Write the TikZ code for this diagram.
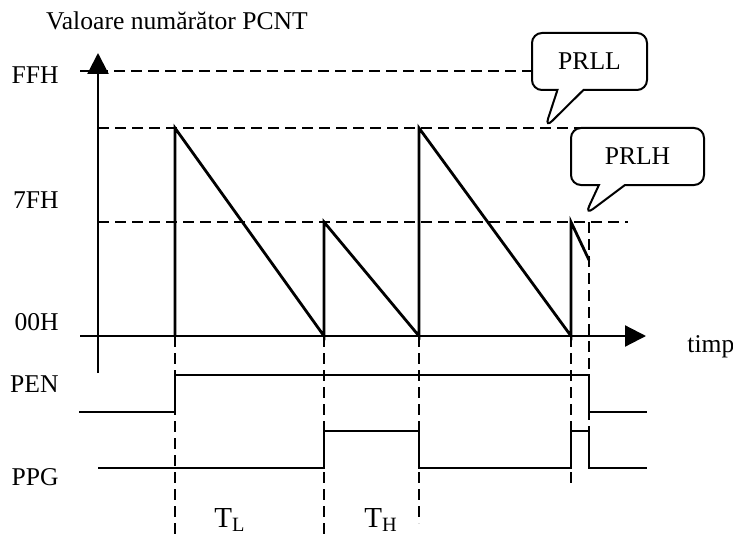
\documentclass[tikz,border=0pt]{standalone}
\usepackage{fontspec}
\setmainfont{Liberation Serif}
\usetikzlibrary{arrows.meta,shapes.callouts}
\tikzset{
  lbl/.style={font=\fontsize{12.8}{15}\selectfont, inner sep=0pt},
  per/.style={font=\fontsize{14.5}{17}\selectfont, inner sep=0pt},
  guide/.style={line width=0.9pt, dash pattern=on 5.5pt off 3pt},
  sig/.style={line width=1.1pt},
  saw/.style={line width=1.4pt, line join=miter},
  bubble/.style={rectangle callout, draw, fill=white, line width=1pt, rounded corners=5pt,
    inner sep=0pt, minimum height=28.5pt, callout pointer width=13pt,
    font=\fontsize{12.8}{15}\selectfont},
  axisarrow/.style={line width=1.1pt, -{Triangle[length=10.5pt,width=10.5pt]}}
}
\begin{document}
\begin{tikzpicture}[x=0.5pt, y=-0.5pt]
    \useasboundingbox (0,0) rectangle (733,540);
    % axes
    \draw[axisarrow] (98,373) -- (98,53);
    \draw[axisarrow] (80,336) -- (646,336);
    \node[lbl, anchor=base] (title) at (177,30) {Valoare numărător PCNT};
    \node[lbl, anchor=base west] (timp) at (687,352) {timp};
    % levels
    \draw[guide] (80,71) -- (532,71);
    \draw[guide] (98,128) -- (627,128);
    \draw[guide] (98,222) -- (628,222);
    \foreach \y/\txt in {84/FFH, 208/7FH, 330/00H, 392/PEN, 485/PPG}
      \node[lbl, anchor=base east] at (59,\y) {\txt};
    % time marks
    \foreach \x/\a/\b in {175/336/540, 324/336/540, 419/336/523, 571/336/487, 589/222/468}
      \draw[guide] (\x,\a) -- (\x,\b);
    % counter value
    \draw[saw] (175,336) -- (175,128) -- (324,336) -- (324,222) -- (419,336)
      -- (419,128) -- (571,336) -- (571,222) -- (589,260);
    % PEN and PPG
    \draw[sig] (79,411.7) -- (175,411.7) -- (175,375) -- (589,375) -- (589,411.7) -- (647,411.7);
    \draw[sig] (98,468) -- (324,468) -- (324,431) -- (419,431) -- (419,468)
      -- (571,468) -- (571,431) -- (589,431) -- (589,468) -- (647,468);
    % periods
    \node[per, anchor=base west] (tl) at (214,527) {T\textsubscript{L}};
    \node[per, anchor=base west] (th) at (364,527) {T\textsubscript{H}};
    % reload registers
    \coordinate (tipL) at (545,128);
    \coordinate (tipH) at (585,215);
    \node[bubble, minimum width=57.5pt, callout absolute pointer=(tipL)] (prll) at (589.5,61.5) {PRLL};
    \node[bubble, minimum width=66.5pt, callout absolute pointer=(tipH)] (prlh) at (637.5,156.5) {PRLH};
  \end{tikzpicture}
\end{document}
